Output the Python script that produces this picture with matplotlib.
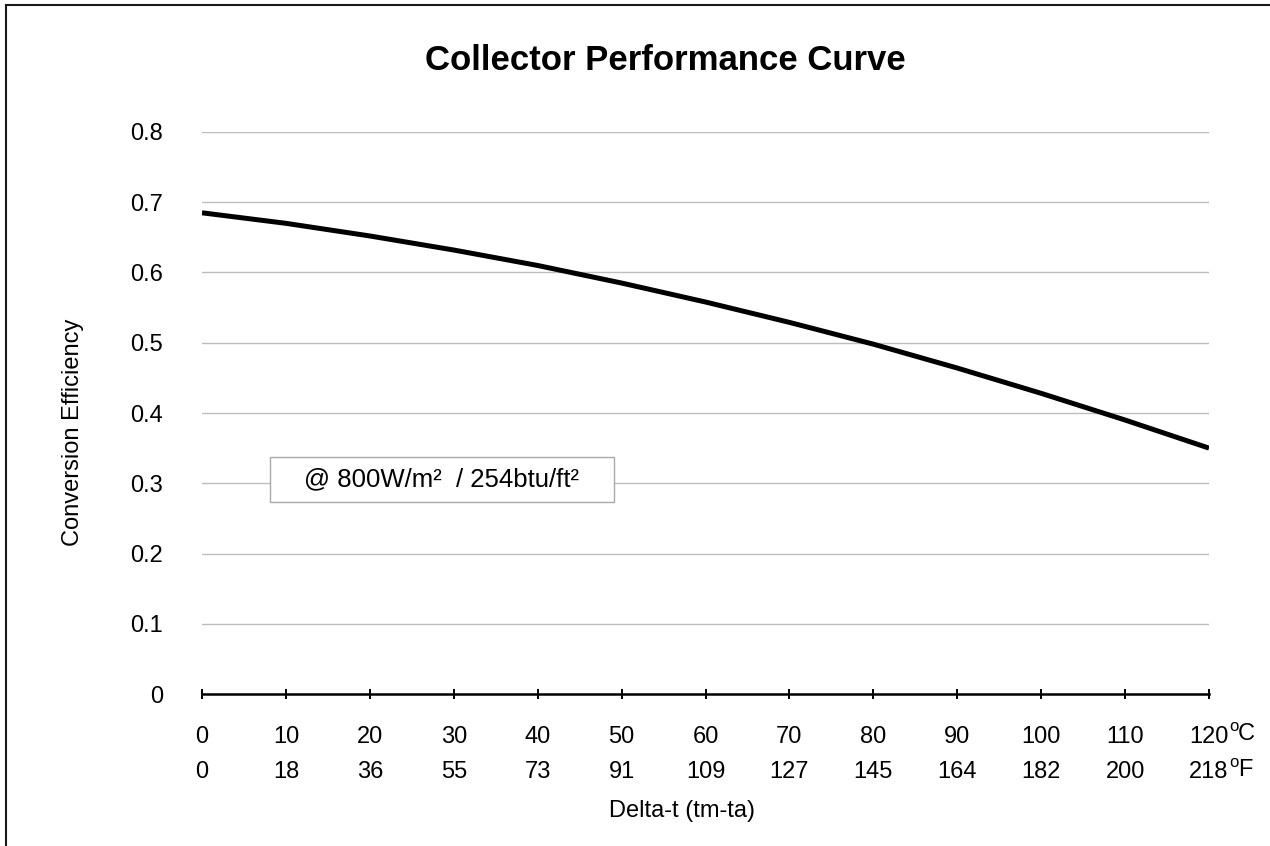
import matplotlib
matplotlib.use("Agg")
import matplotlib.pyplot as plt
from matplotlib.lines import Line2D
from matplotlib.patches import Rectangle

plt.rcParams['font.family'] = ['Liberation Sans', 'DejaVu Sans']

# values
delta_c = [0, 10, 20, 30, 40, 50, 60, 70, 80, 90, 100, 110, 120]
delta_f = [0, 18, 36, 55, 73, 91, 109, 127, 145, 164, 182, 200, 218]
efficiency = [0.685, 0.670, 0.652, 0.632, 0.610, 0.585, 0.558,
              0.529, 0.498, 0.464, 0.428, 0.390, 0.350]
y_ticks = [0, 0.1, 0.2, 0.3, 0.4, 0.5, 0.6, 0.7, 0.8]
y_labels = ['0', '0.1', '0.2', '0.3', '0.4', '0.5', '0.6', '0.7', '0.8']

W, H = 1270, 846
fig = plt.figure(figsize=(W / 100, H / 100), dpi=100)

# partial frame (top and left edges)
fig.add_artist(Line2D([5.5 / W, 5.5 / W], [0, 1 - 5.5 / H], color='#1a1a1a', lw=1.5))
fig.add_artist(Line2D([5.5 / W, 1], [1 - 5.5 / H, 1 - 5.5 / H], color='#1a1a1a', lw=1.5))

ax = fig.add_axes([202 / W, 152 / H, 1007 / W, 562 / H])
ax.plot(delta_c, efficiency, color='black', lw=3.6, solid_capstyle='butt', zorder=3)

ax.set_xlim(delta_c[0], delta_c[-1])
ax.set_ylim(y_ticks[0], y_ticks[-1])
ax.set_yticks(y_ticks, labels=y_labels)
ax.set_xticks(delta_c, labels=[str(c) for c in delta_c])
ax.grid(axis='y', color='#bdbdbd', lw=1.0)
ax.set_axisbelow(True)

for side in ['top', 'right', 'left']:
    ax.spines[side].set_visible(False)
ax.spines['bottom'].set_linewidth(1.8)
ax.spines['bottom'].set_zorder(4)

ax.tick_params(axis='y', length=0, pad=28, labelsize=17)
ax.tick_params(axis='x', direction='inout', length=7.7, width=1.4, pad=19, labelsize=17)

# fahrenheit row
sec = ax.secondary_xaxis('bottom')
sec.set_xticks(delta_c, labels=[str(f) for f in delta_f])
sec.tick_params(length=0, pad=48.5, labelsize=17)
sec.spines['bottom'].set_visible(False)

# unit marks after the last tick labels
for txt, small_dy, big_dy in [('C', -37, -46), ('F', -73, -82)]:
    ax.annotate('o', xy=(delta_c[-1], 0), xycoords=('data', 'axes fraction'),
                xytext=(20, small_dy), textcoords='offset pixels',
                ha='left', va='baseline', fontsize=12)
    ax.annotate(txt, xy=(delta_c[-1], 0), xycoords=('data', 'axes fraction'),
                xytext=(29, big_dy), textcoords='offset pixels',
                ha='left', va='baseline', fontsize=17)

# condition box
ax.add_patch(Rectangle((0.0675, 0.3416), 0.3412, 0.0806, transform=ax.transAxes,
                       facecolor='white', edgecolor='#aaaaaa', lw=1.0, zorder=5))
ax.text(0.238, 0.382, '@ 800W/m\u00b2  / 254btu/ft\u00b2', transform=ax.transAxes,
        ha='center', va='center', fontsize=18.5, zorder=6)

fig.text(665 / W, 1 - 61 / H, 'Collector Performance Curve',
         ha='center', va='center', fontsize=25, fontweight='bold')
fig.text(682 / W, 1 - 811 / H, 'Delta-t (tm-ta)', ha='center', va='center', fontsize=17)
fig.text(73 / W, 1 - 432 / H, 'Conversion Efficiency', ha='center', va='center',
         rotation=90, fontsize=17)

fig.savefig('out.png', dpi=100, facecolor='white')
